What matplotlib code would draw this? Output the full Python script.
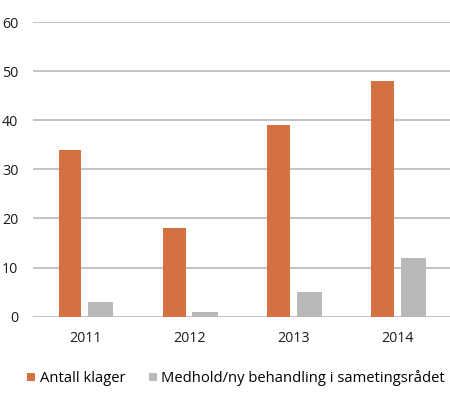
import matplotlib.pyplot as plt
import numpy as np

years = ['2011', '2012', '2013', '2014']
klager = [34, 18, 39, 48]
medhold = [3, 1, 5, 12]
series_names = ['Antall klager', 'Medhold/ny behandling i sametingsrådet']

plt.rcParams['font.family'] = ['Open Sans', 'DejaVu Sans']

fig = plt.figure(figsize=(4.5, 4.04), dpi=100)
ax = fig.add_axes([0.0733, 0.216, 0.9267, 0.7295])

x = np.arange(len(years))
ax.bar(x - 0.145, klager, width=0.22, color='#d37240', label=series_names[0], zorder=3)
ax.bar(x + 0.15, medhold, width=0.24, color='#b8b9bb', label=series_names[1], zorder=3)

ax.set_xlim(-0.5, 3.5)
ax.set_ylim(0, 60)
ax.set_yticks(range(0, 61, 10))
ax.set_xticks(x)
ax.set_xticklabels(years)
ax.grid(axis='y', color='#b3b3b3', linewidth=1.1, zorder=0)
for s in ax.spines.values():
    s.set_visible(False)
ax.tick_params(length=0, labelsize=10.3, colors='#1a1a1a')
ax.tick_params(axis='y', pad=10.5)
ax.tick_params(axis='x', pad=10)

fig.legend(loc='center', bbox_to_anchor=(0.525, 0.064), ncol=2, frameon=False,
           fontsize=10.6, handlelength=0.55, handleheight=0.55, handletextpad=0.3,
           columnspacing=1.6)

fig.savefig('out.png', dpi=100)
